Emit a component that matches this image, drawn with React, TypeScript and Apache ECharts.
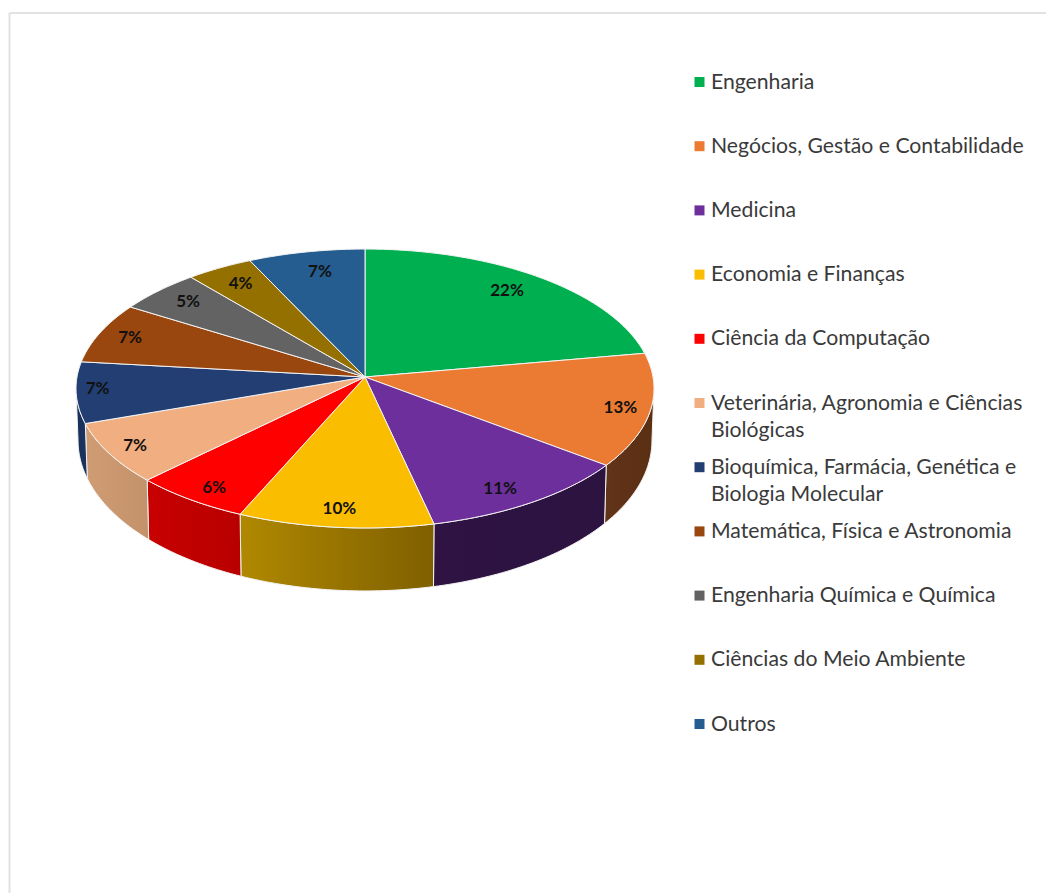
import React, { useEffect, useRef } from "react";
import * as echarts from "echarts";

const categories = [
  "Engenharia",
  "Negócios, Gestão e Contabilidade",
  "Medicina",
  "Economia e Finanças",
  "Ciência da Computação",
  "Veterinária, Agronomia e Ciências\nBiológicas",
  "Bioquímica, Farmácia, Genética e\nBiologia Molecular",
  "Matemática, Física e Astronomia",
  "Engenharia Química e Química",
  "Ciências do Meio Ambiente",
  "Outros",
];
const shares = [22, 13, 11, 10, 6, 7, 7, 7, 5, 4, 7];

const topColors = [
  "#00AF50", "#EB7B32", "#6C2F9C", "#FBBD00", "#FF0000", "#F1AE80",
  "#233E72", "#9A460F", "#636363", "#947000", "#265D90",
];
const wallColors = [
  ["#006830", "#006830"],
  ["#62341A", "#5A2F12"],
  ["#2E1343", "#2C1340"],
  ["#B08800", "#7F6000"],
  ["#C80000", "#B80000"],
  ["#CF9C74", "#C4926A"],
  ["#1A2F58", "#1C3461"],
  ["#6A300A", "#6A300A"],
  ["#444444", "#444444"],
  ["#665000", "#665000"],
  ["#1A4166", "#1A4166"],
];
// Radial position of each percentage label, as a fraction of the pie radius,
// and a small hand-placed shift in pixels
const labelReach = [0.83, 0.9, 0.87, 0.87, 0.88, 0.88, 0.93, 0.88, 0.87, 0.86, 0.86];
const labelShift = [
  [-4, -4], [-1, 0], [-9, 3], [0, 1], [2, 3], [-6, 1], [1, -4], [-1, -2], [4, -1], [2, 0], [6, 2],
];

const FONT = "Lato, 'Open Sans', sans-serif";
const total = shares.reduce((a, b) => a + b, 0);

// Perspective view of the pie's top face: the disc is tilted away from the viewer
const cx = 365;
const cy = 377;
const radiusX = 288;
const radiusY = 138.5;
const tilt = 0.0824;

function project(angle: number, r: number): number[] {
  const dx = Math.sin(angle) * r;
  const dy = Math.cos(angle) * r;
  const w = 1 + tilt * dy;
  return [cx + (radiusX * dx) / w, cy - (radiusY * dy) / w];
}

// The same rim dropped to the pie's underside
function projectBase(angle: number): number[] {
  const [x, y] = project(angle, 1);
  const depth = 51 + 12 * Math.abs(Math.cos(angle));
  return [cx + (x - cx) * 0.993, y + depth];
}

function sampleAngles(a0: number, a1: number): number[] {
  const n = Math.max(2, Math.ceil(((a1 - a0) * 180) / Math.PI));
  const out: number[] = [];
  for (let i = 0; i <= n; i++) out.push(a0 + ((a1 - a0) * i) / n);
  return out;
}

function renderSlice(params: any, api: any) {
  const i = params.dataIndex;
  const before = shares.slice(0, i).reduce((a, b) => a + b, 0);
  const start = (before / total) * Math.PI * 2;
  const end = ((before + api.value(0)) / total) * Math.PI * 2;
  const children: any[] = [];

  // Only the part of the rim that faces the viewer gets a wall
  const front0 = Math.PI - Math.acos(tilt);
  const front1 = Math.PI + Math.acos(tilt);
  const w0 = Math.max(start, front0);
  const w1 = Math.min(end, front1);
  if (w1 > w0) {
    const arc = sampleAngles(w0, w1);
    const points = [
      ...arc.map((a) => project(a, 1)),
      ...arc.slice().reverse().map(projectBase),
    ];
    children.push({
      type: "polygon",
      z2: 1,
      shape: { points },
      style: {
        fill: new echarts.graphic.LinearGradient(0, 0, 1, 0, [
          { offset: 0, color: wallColors[i][0] },
          { offset: 1, color: wallColors[i][1] },
        ]),
        stroke: "#f4f4f4",
        lineWidth: 1,
      },
    });
  }

  children.push({
    type: "polygon",
    z2: 2,
    shape: { points: [[cx, cy], ...sampleAngles(start, end).map((a) => project(a, 1))] },
    style: { fill: topColors[i], stroke: "#f4f4f4", lineWidth: 1 },
  });

  const [lx, ly] = project((start + end) / 2, labelReach[i]);
  children.push({
    type: "text",
    z2: 3,
    style: {
      x: lx + labelShift[i][0],
      y: ly + labelShift[i][1],
      text: `${api.value(0)}%`,
      fill: "#111111",
      font: `bold 17px ${FONT}`,
      align: "center",
      verticalAlign: "middle",
    },
  });
  return { type: "group", children };
}

// Legend rows sit on a fixed pitch, so a wrapped name runs into the next row's gap
const legendTop = 82;
const legendPitch = 64.2;
const legendElements = categories.flatMap((name, i) => {
  const rowY = legendTop + i * legendPitch;
  return [
    {
      type: "rect",
      shape: { x: 694.5, y: rowY - 5, width: 10, height: 10 },
      style: { fill: topColors[i] },
    },
    {
      type: "text",
      style: {
        x: 711,
        y: rowY - 15,
        text: name,
        fill: "#3a3a3a",
        font: `21.2px ${FONT}`,
        lineHeight: 27,
        align: "left",
        verticalAlign: "top",
      },
    },
  ];
});

const frameElements = [
  { type: "line", shape: { x1: 9.5, y1: 13, x2: 1046, y2: 13 }, style: { stroke: "#e2e2e2", lineWidth: 2 } },
  { type: "line", shape: { x1: 9.5, y1: 13, x2: 9.5, y2: 893 }, style: { stroke: "#e2e2e2", lineWidth: 2 } },
];

export default function App() {
  const ref = useRef<HTMLDivElement>(null);
  useEffect(() => {
    const chart = echarts.init(ref.current!, undefined, { renderer: "svg" });
    chart.setOption({
      animation: false,
      backgroundColor: "#ffffff",
      graphic: { elements: [...frameElements, ...legendElements] },
      series: [
        {
          type: "custom",
          coordinateSystem: "none",
          renderItem: renderSlice,
          data: shares.map((v, i) => ({ name: categories[i], value: [v] })),
          clip: false,
        },
      ],
    });
    return () => chart.dispose();
  }, []);
  return (
    <div
      ref={ref}
      style={{ position: "absolute", left: 0, top: 0, width: 1046, height: 893 }}
    />
  );
}
